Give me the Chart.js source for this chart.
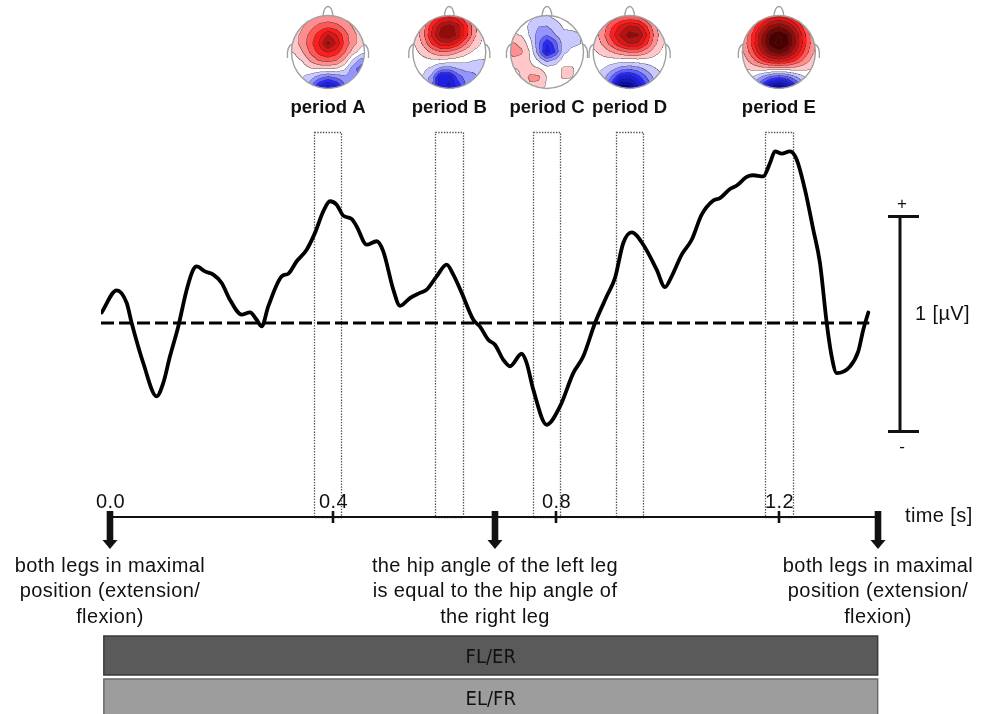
<!DOCTYPE html>
<html>
<head>
<meta charset="utf-8">
<script src="https://cdn.jsdelivr.net/npm/chart.js@4.4.1/dist/chart.umd.min.js"></script>
<style>
  html, body { margin: 0; padding: 0; background: #fff; }
  canvas { display: block; }
</style>
</head>
<body>
<canvas id="erp" width="987" height="714"></canvas>
<script>
// Grand-average ERP over one gait cycle (time in s, amplitude in µV)
const timeS = [
  -0.0149, 0.0120, 0.0300, 0.0389, 0.0597, 0.0838, 0.0956, 0.1076, 0.1225, 0.1376,
  0.1494, 0.1555, 0.1704, 0.1853, 0.2004, 0.2152, 0.2362, 0.2511, 0.2631, 0.2721,
  0.2839, 0.3080, 0.3198, 0.3349, 0.3528, 0.3677, 0.3826, 0.3946, 0.4066, 0.4185,
  0.4335, 0.4425, 0.4604, 0.4784, 0.4902, 0.5082, 0.5202, 0.5381, 0.5561, 0.5681,
  0.5860, 0.6039, 0.6158, 0.6309, 0.6517, 0.6637, 0.6786, 0.6906, 0.7055, 0.7175,
  0.7385, 0.7474, 0.7593, 0.7833, 0.8072, 0.8310, 0.8490, 0.8700, 0.8910, 0.9058,
  0.9207, 0.9358, 0.9566, 0.9806, 0.9955, 1.0075, 1.0255, 1.0434, 1.0613, 1.0822,
  1.0942, 1.1121, 1.1241, 1.1421, 1.1539, 1.1718, 1.1839, 1.1928, 1.2048, 1.2197,
  1.2317, 1.2466, 1.2615, 1.2735, 1.2856, 1.2945, 1.3035, 1.3274, 1.3422, 1.3512,
  1.3602
];
const amplitudeUV = [
  0.049, 0.152, 0.093, 0.000, -0.186, -0.341, -0.279, -0.155, -0.016, 0.155,
  0.248, 0.263, 0.240, 0.225, 0.186, 0.108, 0.039, 0.049, 0.015, -0.016,
  0.077, 0.217, 0.229, 0.287, 0.341, 0.419, 0.519, 0.566, 0.550, 0.499,
  0.484, 0.449, 0.364, 0.380, 0.333, 0.155, 0.080, 0.116, 0.140, 0.155,
  0.217, 0.271, 0.225, 0.140, 0.015, -0.017, -0.078, -0.101, -0.171, -0.201,
  -0.143, -0.186, -0.310, -0.473, -0.388, -0.233, -0.155, 0.000, 0.124, 0.209,
  0.372, 0.421, 0.364, 0.248, 0.167, 0.217, 0.318, 0.387, 0.504, 0.570,
  0.581, 0.623, 0.639, 0.679, 0.687, 0.682, 0.744, 0.798, 0.787, 0.798,
  0.760, 0.620, 0.434, 0.279, 0.000, -0.155, -0.233, -0.202, -0.132, -0.031,
  0.049
];

// Zero line
const baselineTimes = [-0.0161, 1.362];
const baselineUV = [0, 0];

// Analysis windows with their scalp maps
const periodNames = ['period A', 'period B', 'period C', 'period D', 'period E'];
const periodStart = [0.3665, 0.5838, 0.7593, 0.9076, 1.1750];
const periodEnd   = [0.4156, 0.6335, 0.8084, 0.9566, 1.2246];

// Time axis
const tickValues = [0.0, 0.4, 0.8, 1.2];
const tickLabels = ['0.0', '0.4', '0.8', '1.2'];
const axisEnd = 1.3776;

// Gait events marked with arrows
const eventTimes = [0.0, 0.6906, 1.3776];
const eventLabels = [
  ['both legs in maximal', 'position (extension/', 'flexion)'],
  ['the hip angle of the left leg', 'is equal to the hip angle of', 'the right leg'],
  ['both legs in maximal', 'position (extension/', 'flexion)']
];

// Leg phases below the time axis
const phaseNames = ['FL/ER', 'EL/FR'];
const phaseStart = [-0.011, -0.011];
const phaseEnd   = [1.377, 1.377];

// Amplitude calibration bar (1 µV)
const scaleBarUV = [-0.505, 0.495];

// Scalp-map source blobs per window: [u, w, amplitude, spread] on the unit head
const topoSources = [
  [[0.0, 0.2, 0.7, 0.55], [0.05, 0.3, 0.4, 0.15], [0.0, -1.05, -1.0, 0.35], [0.9, -0.45, -0.55, 0.3], [-0.8, -0.35, -0.15, 0.3]],
  [[-0.2, 0.45, 0.75, 0.35], [0.3, 0.55, 0.4, 0.3], [0.0, 0.85, 0.35, 0.45], [0.0, -1.0, -0.75, 0.38], [-0.15, -0.72, -0.45, 0.15], [0.85, -0.55, -0.2, 0.25]],
  [[0.05, 0.05, -0.75, 0.2], [-0.1, 0.5, -0.3, 0.3], [-0.85, 0.05, 0.3, 0.3], [-0.35, -0.75, 0.32, 0.2], [0.55, -0.55, 0.12, 0.22], [0.75, 0.35, -0.12, 0.22]],
  [[0.2, 0.45, 0.85, 0.35], [-0.35, 0.5, 0.5, 0.38], [0.0, -1.05, -1.0, 0.42], [-0.2, -0.92, -0.35, 0.18]],
  [[0.0, 0.3, 1.5, 0.52], [0.0, -1.15, -1.35, 0.42]]
];

const FONT = '"Liberation Sans", Arial, Helvetica, sans-serif';

// blue - white - red - maroon colour scale
function bandColor(v) {
  if (v > 0) {
    if (v <= 0.6) {
      const t = v / 0.6;
      const g = Math.round(255 * (1 - t) + 30 * t);
      return [255, g, g];
    }
    const t = Math.min((v - 0.6) / 0.75, 1);
    const g = Math.round(30 * (1 - t));
    return [Math.round(255 - 180 * t), g, g];
  } else if (v < 0) {
    const a = -v;
    if (a <= 0.6) {
      const t = a / 0.6;
      const rg = Math.round(255 - 215 * t);
      return [rg, rg, 255];
    }
    const t = Math.min((a - 0.6) / 0.6, 1);
    const rg = Math.round(40 * (1 - t));
    return [rg, rg, Math.round(255 - 110 * t)];
  }
  return [255, 255, 255];
}

function fieldAt(blobs, u, w) {
  let val = 0;
  for (const [bu, bw, amp, s] of blobs) {
    const d2 = (u - bu) * (u - bu) + (w - bw) * (w - bw);
    val += amp * Math.exp(-d2 / (2 * s * s));
  }
  return val;
}

// Render one contoured scalp map: field sampled on a coarse electrode grid,
// bilinearly interpolated, banded and outlined (2x supersampled)
function renderTopo(blobs, R) {
  const S = 2;
  const size = Math.ceil(R * 2 * S) + 2;
  const c = size / 2, rr = R * S;
  const G = 10, gmin = -1.15, gstep = 2.3 / G;
  const grid = [];
  for (let j = 0; j <= G; j++) {
    grid.push([]);
    for (let i = 0; i <= G; i++) grid[j].push(fieldAt(blobs, gmin + i * gstep, gmin + j * gstep));
  }
  const off = document.createElement('canvas');
  off.width = off.height = size;
  const octx = off.getContext('2d');
  const img = octx.createImageData(size, size);
  const step = 0.15;
  const lev = new Int16Array(size * size);
  const inside = new Uint8Array(size * size);
  for (let py = 0; py < size; py++) {
    for (let px = 0; px < size; px++) {
      const u = (px + 0.5 - c) / rr, w = -(py + 0.5 - c) / rr;
      if (u * u + w * w > 1) continue;
      const gi = (u - gmin) / gstep, gj = (w - gmin) / gstep;
      const i0 = Math.min(Math.floor(gi), G - 1), j0 = Math.min(Math.floor(gj), G - 1);
      const fu = gi - i0, fw = gj - j0;
      const val = grid[j0][i0] * (1 - fu) * (1 - fw) + grid[j0][i0 + 1] * fu * (1 - fw) +
                  grid[j0 + 1][i0] * (1 - fu) * fw + grid[j0 + 1][i0 + 1] * fu * fw;
      const k = py * size + px;
      inside[k] = 1;
      lev[k] = Math.floor(val / step + 0.5);
    }
  }
  for (let py = 0; py < size; py++) {
    for (let px = 0; px < size; px++) {
      const k = py * size + px;
      if (!inside[k]) continue;
      let col = bandColor(lev[k] * step);
      const r = k + 1, d = k + size;
      const edge = (px + 1 < size && inside[r] && lev[r] !== lev[k]) ||
                   (py + 1 < size && inside[d] && lev[d] !== lev[k]);
      if (edge) col = [Math.round(col[0] * 0.3 + 30), Math.round(col[1] * 0.3 + 30), Math.round(col[2] * 0.3 + 30)];
      const o = k * 4;
      img.data[o] = col[0]; img.data[o + 1] = col[1]; img.data[o + 2] = col[2]; img.data[o + 3] = 255;
    }
  }
  octx.putImageData(img, 0, 0);
  return { canvas: off, scale: S };
}

const topoCache = [];

const erpDecor = {
  id: 'erpDecor',
  beforeDatasetsDraw(chart) {
    const { ctx, chartArea: a, scales: { x } } = chart;
    ctx.save();
    ctx.strokeStyle = '#555';
    ctx.lineWidth = 1.3;
    ctx.setLineDash([1.4, 1.4]);
    for (let i = 0; i < periodStart.length; i++) {
      const x0 = x.getPixelForValue(periodStart[i]);
      const x1 = x.getPixelForValue(periodEnd[i]);
      ctx.strokeRect(Math.round(x0) + 0.5, a.top + 0.5, Math.round(x1 - x0), a.bottom - a.top);
    }
    ctx.restore();
  },
  afterDraw(chart) {
    const { ctx, chartArea: a, scales: { x, y } } = chart;
    ctx.save();
    ctx.fillStyle = '#111';
    ctx.strokeStyle = '#111';

    // time axis line
    const ax0 = x.getPixelForValue(0), ax1 = x.getPixelForValue(axisEnd);
    ctx.lineWidth = 2;
    ctx.beginPath();
    ctx.moveTo(ax0, a.bottom);
    ctx.lineTo(ax1, a.bottom);
    ctx.stroke();

    // tick marks and labels above the axis
    ctx.font = '20px ' + FONT;
    ctx.letterSpacing = '0.4px';
    ctx.textAlign = 'center';
    ctx.textBaseline = 'alphabetic';
    tickValues.forEach((t, i) => {
      const px = x.getPixelForValue(t);
      if (t > 0) {
        ctx.lineWidth = 2.6;
        ctx.beginPath();
        ctx.moveTo(px, a.bottom - 6);
        ctx.lineTo(px, a.bottom + 6);
        ctx.stroke();
      }
      ctx.fillText(tickLabels[i], px + 0.5, a.bottom - 9);
    });

    ctx.textAlign = 'left';
    ctx.fillText('time [s]', ax1 + 27, a.bottom + 5);

    // event arrows and captions
    eventTimes.forEach((t, i) => {
      const px = x.getPixelForValue(t);
      ctx.fillRect(px - 3.3, a.bottom - 6, 6.6, 29.5);
      ctx.beginPath();
      ctx.moveTo(px - 7.5, a.bottom + 23);
      ctx.lineTo(px + 7.5, a.bottom + 23);
      ctx.lineTo(px, a.bottom + 32);
      ctx.closePath();
      ctx.fill();
      ctx.textAlign = 'center';
      eventLabels[i].forEach((line, j) => {
        ctx.fillText(line, px, a.bottom + 54.5 + j * 25.5);
      });
    });

    // leg phase bars
    const phaseFill = ['#5a5a5a', '#9d9d9d'];
    const phaseEdge = ['#3a3a3a', '#6a6a6a'];
    const phaseTop = [a.bottom + 119, a.bottom + 162];
    const phaseH = [39, 40];
    const phaseText = [a.bottom + 146, a.bottom + 188];
    ctx.letterSpacing = '0px';
    for (let i = 0; i < phaseNames.length; i++) {
      const x0 = x.getPixelForValue(phaseStart[i]);
      const x1 = x.getPixelForValue(phaseEnd[i]);
      ctx.fillStyle = phaseFill[i];
      ctx.fillRect(x0, phaseTop[i], x1 - x0, phaseH[i]);
      ctx.strokeStyle = phaseEdge[i];
      ctx.lineWidth = 1.5;
      ctx.strokeRect(x0, phaseTop[i], x1 - x0, phaseH[i]);
      ctx.fillStyle = '#111';
      ctx.font = '20px "DejaVu Sans Condensed", "DejaVu Sans", sans-serif';
      ctx.textAlign = 'center';
      ctx.fillText(phaseNames[i], (x0 + x1) / 2, phaseText[i]);
    }

    // 1 µV calibration bar
    ctx.fillStyle = '#111';
    ctx.strokeStyle = '#111';
    const bx = a.right + 22;
    const byTop = y.getPixelForValue(scaleBarUV[1]);
    const byBot = y.getPixelForValue(scaleBarUV[0]);
    ctx.lineWidth = 3;
    ctx.beginPath();
    ctx.moveTo(bx, byTop); ctx.lineTo(bx, byBot);
    ctx.moveTo(bx - 12, byTop); ctx.lineTo(bx + 19, byTop);
    ctx.moveTo(bx - 12, byBot); ctx.lineTo(bx + 19, byBot);
    ctx.stroke();
    ctx.font = '17px ' + FONT;
    ctx.textAlign = 'center';
    ctx.textBaseline = 'middle';
    ctx.fillText('+', bx + 2, byTop - 12);
    ctx.fillText('-', bx + 2, byBot + 16);
    ctx.font = '20px ' + FONT;
    ctx.letterSpacing = '0.4px';
    ctx.textAlign = 'left';
    ctx.textBaseline = 'alphabetic';
    ctx.fillText('1 [µV]', bx + 15, y.getPixelForValue(0) - 3);

    // scalp maps and period labels
    const R = 36.5, cy = 52;
    ctx.letterSpacing = '0px';
    for (let i = 0; i < periodNames.length; i++) {
      const cx = x.getPixelForValue((periodStart[i] + periodEnd[i]) / 2);
      if (!topoCache[i]) topoCache[i] = renderTopo(topoSources[i], R);
      const tp = topoCache[i];
      const sz = tp.canvas.width / tp.scale;
      ctx.strokeStyle = '#a0a0a0';
      ctx.lineWidth = 1.4;
      // nose
      ctx.beginPath();
      ctx.moveTo(cx - 5, cy - R + 1);
      ctx.quadraticCurveTo(cx - 4, cy - R - 9, cx, cy - R - 9);
      ctx.quadraticCurveTo(cx + 4, cy - R - 9, cx + 5, cy - R + 1);
      ctx.stroke();
      // ears
      ctx.beginPath();
      ctx.moveTo(cx - R + 1, cy - 8);
      ctx.quadraticCurveTo(cx - R - 5, cy - 6, cx - R - 4, cy + 6);
      ctx.moveTo(cx + R - 1, cy - 8);
      ctx.quadraticCurveTo(cx + R + 5, cy - 6, cx + R + 4, cy + 6);
      ctx.stroke();
      ctx.imageSmoothingEnabled = true;
      ctx.drawImage(tp.canvas, cx - sz / 2, cy - sz / 2, sz, sz);
      ctx.beginPath();
      ctx.arc(cx, cy, R, 0, Math.PI * 2);
      ctx.stroke();

      ctx.fillStyle = '#111';
      ctx.font = 'bold 18.5px ' + FONT;
      ctx.textAlign = 'center';
      ctx.textBaseline = 'alphabetic';
      ctx.fillText(periodNames[i], cx, 113);
    }
    ctx.restore();
  }
};

new Chart(document.getElementById('erp').getContext('2d'), {
  type: 'line',
  data: {
    datasets: [
      {
        label: 'ERP',
        data: timeS.map((t, i) => ({ x: t, y: amplitudeUV[i] })),
        borderColor: '#000',
        borderWidth: 3.8,
        borderJoinStyle: 'round',
        borderCapStyle: 'round',
        pointRadius: 0,
        cubicInterpolationMode: 'monotone',
        fill: false
      },
      {
        label: 'baseline',
        data: baselineTimes.map((t, i) => ({ x: t, y: baselineUV[i] })),
        borderColor: '#000',
        borderWidth: 3,
        borderDash: [13, 5],
        pointRadius: 0,
        fill: false
      }
    ]
  },
  options: {
    responsive: false,
    animation: false,
    devicePixelRatio: 1,
    layout: { padding: { left: 101, right: 109, top: 132, bottom: 197 } },
    scales: {
      x: { type: 'linear', min: -0.0161, max: 1.3776, display: false },
      y: { min: -0.902, max: 0.888, display: false }
    },
    plugins: { legend: { display: false }, tooltip: { enabled: false } }
  },
  plugins: [erpDecor]
});
</script>
</body>
</html>
